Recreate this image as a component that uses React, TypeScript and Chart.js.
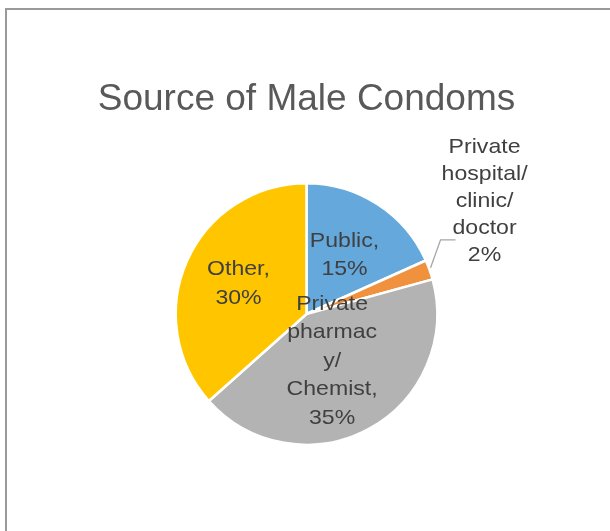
import React, { useEffect, useRef } from "react";
import { Chart, registerables } from "chart.js";

Chart.register(...registerables);

const chartTitle = "Source of Male Condoms";
const categories = ["Public", "Private hospital/ clinic/ doctor", "Private pharmacy/ Chemist", "Other"];
const values = [15, 2, 35, 30];
const labelLines = [
  ["Public,", "15%"],
  ["Private", "hospital/", "clinic/", "doctor", "2%"],
  ["Private", "pharmac", "y/", "Chemist,", "35%"],
  ["Other,", "30%"],
];
const colors = ["#64A8DC", "#F0913E", "#B3B3B3", "#FFC600"];

const labelPlugin = {
  id: "sliceLabels",
  afterDatasetsDraw(chart: any) {
    const ctx = chart.ctx;
    const meta = chart.getDatasetMeta(0);
    const factors = [0.535, 0, 0.41, 0.57];
    const fontSize = 21;
    const lh = 28.5;
    ctx.save();
    ctx.fillStyle = "#404040";
    ctx.font = `${fontSize}px "Liberation Sans", Arial, sans-serif`;
    ctx.textAlign = "center";
    ctx.textBaseline = "middle";
    meta.data.forEach((arc: any, i: number) => {
      const { x, y, startAngle, endAngle, outerRadius } = arc.getProps(
        ["x", "y", "startAngle", "endAngle", "outerRadius"],
        true
      );
      const mid = (startAngle + endAngle) / 2;
      const lines = labelLines[i];
      let cx: number, cy: number, lineH = lh;
      if (i === 1) {
        const ex = x + Math.cos(mid) * outerRadius;
        const ey = y + Math.sin(mid) * outerRadius;
        cx = ex + 55;
        cy = ey - 69;
        lineH = 27;
        ctx.save();
        ctx.strokeStyle = "#A6A6A6";
        ctx.lineWidth = 1.3;
        ctx.beginPath();
        ctx.moveTo(ex + 26, ey - 30);
        ctx.lineTo(ex + 11, ey - 30);
        ctx.lineTo(ex + 1, ey - 2);
        ctx.stroke();
        ctx.restore();
      } else {
        cx = x + Math.cos(mid) * outerRadius * factors[i];
        cy = y + Math.sin(mid) * outerRadius * factors[i];
      }
      const top = cy - ((lines.length - 1) * lineH) / 2;
      lines.forEach((t, k) => {
        ctx.save();
        ctx.translate(cx, top + k * lineH);
        ctx.scale(1.1, 1);
        ctx.fillText(t, 0, 0);
        ctx.restore();
      });
    });
    ctx.restore();
  },
};

export default function App() {
  const ref = useRef<HTMLCanvasElement | null>(null);
  useEffect(() => {
    if (!ref.current) return;
    const chart = new Chart(ref.current, {
      type: "pie",
      data: {
        labels: categories,
        datasets: [
          {
            data: values,
            backgroundColor: colors,
            borderColor: "#FFFFFF",
            borderWidth: 2.5,
          },
        ],
      },
      options: {
        responsive: false,
        animation: false,
        layout: { padding: { left: 3, right: 0, top: 0, bottom: 85 } },
        plugins: {
          legend: { display: false },
          tooltip: { enabled: false },
          title: {
            display: true,
            text: chartTitle,
            color: "#595959",
            font: { size: 37, family: '"Liberation Sans", Arial, sans-serif', weight: "normal", lineHeight: 1.2 },
            padding: { top: 78, bottom: 59.6 },
          },
        },
      },
      plugins: [labelPlugin],
    });
    return () => chart.destroy();
  }, []);
  return (
    <div style={{ position: "fixed", left: 0, top: 0, width: 610, height: 531, background: "#fff" }}>
      <canvas ref={ref} width={610} height={531} style={{ position: "absolute", left: 0, top: 0 }} />
      <div
        style={{
          position: "absolute",
          left: 5,
          top: 8,
          width: 700,
          height: 700,
          borderLeft: "2px solid #9A9A9A",
          borderTop: "2px solid #9A9A9A",
          pointerEvents: "none",
        }}
      />
    </div>
  );
}
